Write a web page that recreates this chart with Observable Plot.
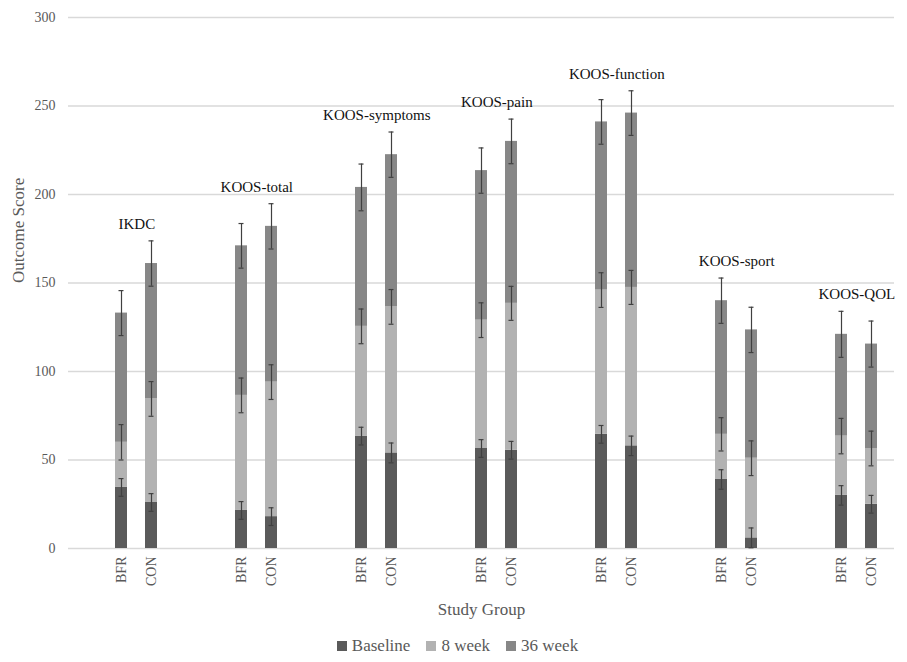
<!DOCTYPE html>
<html>
<head>
<meta charset="utf-8">
<script src="https://cdn.jsdelivr.net/npm/d3@7"></script>
<script src="https://cdn.jsdelivr.net/npm/@observablehq/plot@0.6"></script>
<style>
  body { margin: 0; background: #fff; font-family: 'Liberation Serif', 'Tinos', 'Times New Roman', 'DejaVu Serif', 'Noto Serif', serif; }
  #legend { display: flex; justify-content: center; align-items: center; height: 32px; font-size: 17px; color: #595959; padding-left: 8px; }
  #legend span.item { display: inline-flex; align-items: center; margin: 0 8px; }
  #legend span.sw { display: inline-block; width: 10px; height: 10px; margin-right: 5px; }
  svg text { font-family: 'Liberation Serif', 'Tinos', 'Times New Roman', 'DejaVu Serif', 'Noto Serif', serif !important; }
</style>
</head>
<body>
<div id="chart"></div>
<div id="legend"></div>
<script>
const groups = ["IKDC", "KOOS-total", "KOOS-symptoms", "KOOS-pain", "KOOS-function", "KOOS-sport", "KOOS-QOL"];
const arms = ["BFR", "CON"];
const stages = ["Baseline", "8 week", "36 week"];
const stageColors = ["#5a5a5a", "#b2b2b2", "#878787"];

// segment values (stacked)
const baselineBFR = [34.5, 21.5, 63.5, 56.5, 64.5, 39, 30];
const baselineCON = [26, 18, 54, 55.5, 58, 6, 25];
const week8BFR = [25.5, 65, 62, 72.5, 81.5, 25.5, 33.5];
const week8CON = [58.5, 76, 82.5, 83, 89.5, 45, 31.5];
const week36BFR = [73, 84.5, 78.5, 84.5, 95, 75.5, 57.5];
const week36CON = [76.5, 88, 86, 91.5, 98.5, 72.5, 59];

// error bar half-lengths
const errBaselineBFR = [5, 5, 5, 5, 5, 5.5, 5.5];
const errBaselineCON = [5, 5, 5.6, 5, 5.5, 5.6, 5];
const err8BFR = [10, 9.8, 9.8, 9.8, 9.8, 9.4, 10];
const err8CON = [9.8, 9.8, 9.8, 9.6, 9.6, 9.8, 9.8];
const err36BFR = [12.7, 12.6, 13.2, 12.8, 12.6, 12.8, 13];
const err36CON = [12.8, 12.8, 12.8, 12.6, 12.6, 12.8, 13];

const yTicks = [0, 50, 100, 150, 200, 250, 300];

const W = 907, H = 630, mL = 68, mR = 13, mT = 17, mB = 82;
const FONT = "'Liberation Serif', 'Tinos', 'Times New Roman', 'DejaVu Serif', 'Noto Serif', serif";

// category slots: spacer, BFR, CON, spacer ...
const slots = [];
groups.forEach((g, i) => {
  slots.push(`gap${i}a`);
  slots.push(g + "|BFR");
  slots.push(g + "|CON");
  if (i < groups.length - 1) slots.push(`gap${i}b`);
});
const step = (W - mL - mR) / slots.length;

const values = {
  BFR: [baselineBFR, week8BFR, week36BFR],
  CON: [baselineCON, week8CON, week36CON]
};
const errs = {
  BFR: [errBaselineBFR, err8BFR, err36BFR],
  CON: [errBaselineCON, err8CON, err36CON]
};

const bars = [];
const errRows = [];
groups.forEach((g, gi) => {
  arms.forEach(a => {
    let cum = 0;
    stages.forEach((s, si) => {
      const v = values[a][si][gi];
      bars.push({ slot: g + "|" + a, stage: s, value: v });
      cum += v;
      const e = errs[a][si][gi];
      errRows.push({ slot: g + "|" + a, group: g, y1: cum - e, y2: cum + e, top: cum + e });
    });
  });
});

const labelRows = groups.map(g => ({
  group: g,
  slot: g + "|BFR",
  y: d3.max(errRows.filter(r => r.group === g), r => r.top)
}));

const grey = "#595959";

const chart = Plot.plot({
  width: W, height: H,
  marginLeft: mL, marginRight: mR, marginTop: mT, marginBottom: mB,
  style: { fontFamily: FONT, background: "#fff" },
  x: { domain: slots, paddingInner: 0.59, paddingOuter: 0.295, label: null },
  y: { domain: [0, 300], label: null },
  color: { domain: stages, range: stageColors },
  marks: [
    Plot.gridY(yTicks, { stroke: "#d9d9d9", strokeOpacity: 1, strokeWidth: 1.3 }),
    Plot.axisY({ ticks: yTicks, tickSize: 0, tickPadding: 13, fontSize: 14, color: grey, label: null }),
    Plot.axisX({
      ticks: slots.filter(s => s.includes("|")),
      tickFormat: d => d.split("|")[1],
      tickSize: 0, tickPadding: 8, tickRotate: -90, fontSize: 14, color: grey, label: null
    }),
    Plot.barY(bars, { x: "slot", y: "value", fill: "stage" }),
    Plot.ruleX(errRows, { x: "slot", y1: "y1", y2: "y2", stroke: "#404040", strokeWidth: 1.2 }),
    Plot.tickY(errRows, { x: "slot", y: "y1", stroke: "#404040", strokeWidth: 1.2, insetLeft: 3.5, insetRight: 3.5 }),
    Plot.tickY(errRows, { x: "slot", y: "y2", stroke: "#404040", strokeWidth: 1.2, insetLeft: 3.5, insetRight: 3.5 }),
    Plot.text(labelRows, { x: "slot", y: "y", text: "group", dx: step / 2, dy: -17, lineAnchor: "middle", fontSize: 15, fill: "#111" }),
    Plot.text(["Outcome Score"], { frameAnchor: "left", dx: -49.5, rotate: -90, fontSize: 17, fill: grey, lineAnchor: "middle" }),
    Plot.text(["Study Group"], { frameAnchor: "bottom", dy: 61, fontSize: 17, fill: grey, lineAnchor: "middle" })
  ]
});
document.getElementById("chart").appendChild(chart);

const legend = document.getElementById("legend");
stages.forEach((s, i) => {
  const item = document.createElement("span");
  item.className = "item";
  const sw = document.createElement("span");
  sw.className = "sw";
  sw.style.background = stageColors[i];
  item.appendChild(sw);
  item.appendChild(document.createTextNode(s));
  legend.appendChild(item);
});
</script>
</body>
</html>
